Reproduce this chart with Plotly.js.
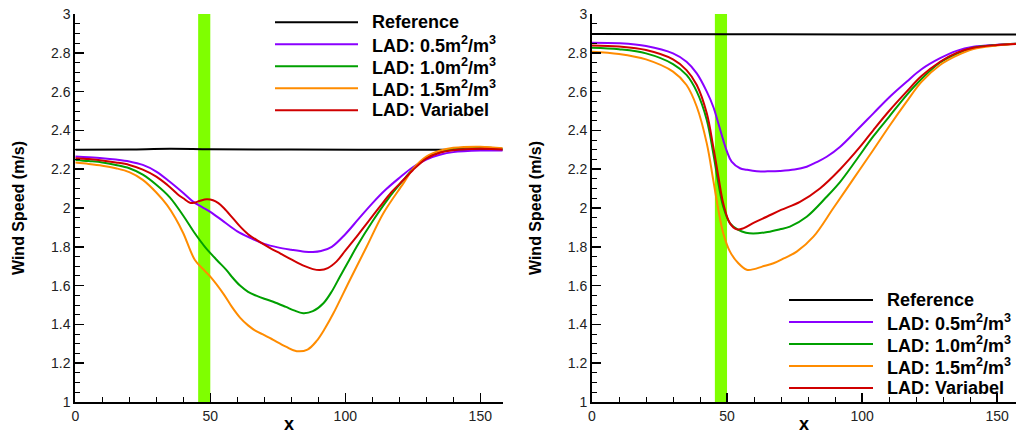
<!DOCTYPE html>
<html>
<head>
<meta charset="utf-8">
<script src="https://cdn.plot.ly/plotly-3.0.1.min.js"></script>
<style>html,body{margin:0;padding:0;background:#fff;}#chart{width:1016px;height:434px;}</style>
</head>
<body>
<div id="chart"></div>
<script>
// ---------- DATA ----------
const seriesNames = ['Reference', 'LAD: 0.5m<sup>2</sup>/m<sup>3</sup>', 'LAD: 1.0m<sup>2</sup>/m<sup>3</sup>', 'LAD: 1.5m<sup>2</sup>/m<sup>3</sup>', 'LAD: Variabel'];
const canopyX = [45.5, 50];          // tree canopy (green band) extent in x
const yTickVals = [1, 1.2, 1.4, 1.6, 1.8, 2, 2.2, 2.4, 2.6, 2.8, 3];
const xTickVals = [0, 50, 100, 150];
const xMinorVals = [10, 20, 30, 40, 60, 70, 80, 90, 110, 120, 130, 140];

// Left panel
const L_refX = [0, 20, 35, 50, 80, 120, 158.3];
const L_refY = [2.300, 2.302, 2.305, 2.303, 2.301, 2.300, 2.300];
const L_p05X = [0,5,10,15,20,25,30,35,40,43.6,47,50,55,60,65,70,75,80,85,88,91,95,100,105,110,115,120,125,130,135,140,150,158.3];
const L_p05Y = [2.266,2.262,2.257,2.25,2.24,2.222,2.188,2.135,2.077,2.033,2.005,1.98,1.93,1.88,1.845,1.815,1.797,1.785,1.775,1.773,1.778,1.80,1.865,1.945,2.024,2.095,2.155,2.21,2.25,2.274,2.288,2.296,2.296];
const L_p10X = [0,5,10,15,20,25,30,35,40,44,48,52.4,56,58,61,64,67,70,73.3,78,81,84.4,88,91.9,95,98,101,104.2,110.4,116,121.5,125,130,135,140,150,158.3];
const L_p10Y = [2.248,2.242,2.235,2.222,2.205,2.172,2.12,2.055,1.96,1.875,1.80,1.732,1.68,1.645,1.60,1.568,1.548,1.532,1.517,1.49,1.472,1.458,1.468,1.509,1.57,1.646,1.72,1.80,1.938,2.05,2.144,2.2,2.26,2.29,2.305,2.313,2.305];
const L_p15X = [0,5,10,15,20,25,30,34,37,40,44.3,48,50,55,58,61,64,67,70,73.3,78,82,86,89.4,92.5,95.6,101.7,107.9,114.1,121.5,125,130,135,140,150,158.3];
const L_p15Y = [2.234,2.227,2.218,2.205,2.185,2.145,2.08,2.015,1.95,1.87,1.732,1.675,1.646,1.555,1.49,1.435,1.395,1.365,1.345,1.32,1.285,1.262,1.27,1.315,1.38,1.457,1.629,1.80,1.973,2.127,2.2,2.265,2.295,2.31,2.316,2.308];
const L_varX = [0,5,10,15,20,25,30,34,38,40,42.5,44,46,48.7,51,53,55,58.5,61,64,68,72,76,80,85,88,90.6,93.5,96.8,100,104.2,108.5,112.8,117,121.5,125,130,135,140,150,158.3];
const L_varY = [2.257,2.252,2.245,2.235,2.222,2.198,2.162,2.12,2.07,2.05,2.027,2.027,2.036,2.045,2.04,2.025,2.00,1.945,1.905,1.865,1.828,1.795,1.765,1.735,1.70,1.685,1.68,1.69,1.725,1.78,1.852,1.93,2.007,2.08,2.144,2.195,2.255,2.285,2.298,2.305,2.302];

// Right panel
const R_refX = [0, 50, 100, 157];
const R_refY = [2.897, 2.896, 2.894, 2.894];
const R_p05X = [0,10,20,30,35,38.8,42.5,44.9,46.8,48.6,50,51.7,54.8,57.3,61,65,69.6,75,79.5,83,86.9,91.9,98,104.2,110,116.5,122,128.9,135,141.2,150,157];
const R_p05Y = [2.852,2.849,2.835,2.797,2.754,2.694,2.6,2.522,2.436,2.35,2.29,2.239,2.205,2.197,2.189,2.189,2.191,2.198,2.213,2.235,2.264,2.316,2.40,2.488,2.57,2.651,2.715,2.772,2.81,2.831,2.842,2.847];
const R_p10X = [0,10,20,30,35,38.8,42.5,44.9,46.8,48.6,51.1,54.2,57,59.7,65,69.6,73.3,79.5,86.9,91.9,98,104.2,110,116.5,122,128.9,135,141.2,150,157];
const R_p10Y = [2.826,2.818,2.797,2.742,2.686,2.6,2.454,2.282,2.127,2.007,1.921,1.887,1.872,1.868,1.876,1.89,1.904,1.955,2.058,2.135,2.25,2.37,2.47,2.582,2.665,2.75,2.795,2.826,2.84,2.847];
const R_p15X = [0,10,20,30,35,38.8,42.5,44.9,46.8,48.6,51.1,54.2,57.3,60,63,67.2,71,75.8,82,89.4,96.8,104.2,110,116.5,122,128.9,135,141.2,150,157];
const R_p15Y = [2.806,2.794,2.766,2.703,2.634,2.522,2.333,2.144,1.99,1.87,1.775,1.715,1.682,1.685,1.698,1.715,1.74,1.775,1.852,2.0,2.15,2.30,2.42,2.548,2.65,2.737,2.785,2.82,2.838,2.847];
const R_varX = [0,10,20,30,35,38.8,42.5,44.9,46.8,48.6,51.1,53.6,56,60,64.7,70,77,84.4,91.9,99.3,104.2,110,116.5,122,128.9,135,141.2,150,157];
const R_varY = [2.838,2.832,2.814,2.766,2.711,2.634,2.488,2.316,2.161,2.024,1.921,1.89,1.895,1.925,1.955,1.99,2.032,2.101,2.2,2.316,2.402,2.50,2.6,2.68,2.754,2.80,2.826,2.84,2.846];

// ---------- STYLE ----------
const colors = ['#000000', '#8a00ff', '#00a000', '#ff8c00', '#d00000'];
const bandColor = '#7fff00';
const FONT = 'Arial, "Liberation Sans", sans-serif';
const W = 1016, H = 434, MT = 14, MB = 32;

function band(xa, ya) {
  return {x: [canopyX[0], canopyX[1], canopyX[1], canopyX[0]], y: [1, 1, 3, 3],
    xaxis: xa, yaxis: ya, type: 'scatter', mode: 'lines', fill: 'toself',
    fillcolor: bandColor, line: {width: 0, color: bandColor}, hoverinfo: 'skip', showlegend: false};
}
function curve(x, y, i, xa, ya) {
  return {x: x, y: y, xaxis: xa, yaxis: ya, type: 'scatter', mode: 'lines', name: seriesNames[i],
    line: {color: colors[i], width: 2, shape: 'spline', smoothing: 1}, showlegend: false};
}
const traces = [
  band('x', 'y'),
  curve(L_refX, L_refY, 0, 'x', 'y'),
  curve(L_p05X, L_p05Y, 1, 'x', 'y'),
  curve(L_p10X, L_p10Y, 2, 'x', 'y'),
  curve(L_p15X, L_p15Y, 3, 'x', 'y'),
  curve(L_varX, L_varY, 4, 'x', 'y'),
  band('x2', 'y2'),
  curve(R_refX, R_refY, 0, 'x2', 'y2'),
  curve(R_p05X, R_p05Y, 1, 'x2', 'y2'),
  curve(R_p10X, R_p10Y, 2, 'x2', 'y2'),
  curve(R_p15X, R_p15Y, 3, 'x2', 'y2'),
  curve(R_varX, R_varY, 4, 'x2', 'y2')
];

function xAxis(domain, range, anchor) {
  return {domain: domain, range: range, anchor: anchor, showgrid: false, zeroline: false,
    showline: true, linecolor: '#000', linewidth: 2, mirror: false,
    ticks: 'inside', ticklen: 9, tickwidth: 1.5, tickcolor: '#000',
    tickvals: xTickVals, ticktext: xTickVals.map(String),
    minor: {tickvals: xMinorVals, ticks: 'inside', ticklen: 5, tickwidth: 1, tickcolor: '#000'},
    tickfont: {family: FONT, size: 14, color: '#222'},
    title: {text: 'x', font: {family: FONT, size: 18, color: '#000', weight: 'bold'}, standoff: 4}};
}
function yAxis(anchor) {
  return {domain: [0, 1], range: [1, 3], anchor: anchor, showgrid: false, zeroline: false,
    showline: true, linecolor: '#000', linewidth: 2, mirror: false,
    ticks: 'inside', ticklen: 9, tickwidth: 1.5, tickcolor: '#000',
    tickvals: yTickVals, ticktext: yTickVals.map(String),
    minor: {dtick: 0.05, tick0: 1, ticks: 'inside', ticklen: 5, tickwidth: 1, tickcolor: '#000'},
    tickfont: {family: FONT, size: 14, color: '#222'},
    title: {text: 'Wind Speed (m/s)', font: {family: FONT, size: 16, color: '#000', weight: 'bold'}, standoff: 22}};
}

// legend (drawn as line samples + text), pixel layout
function legend(lineX0, lineX1, textX, rowsY) {
  const shapes = [], anns = [];
  const py = p => (H - MB - p) / (H - MT - MB);
  rowsY.forEach((r, i) => {
    shapes.push({type: 'line', xref: 'paper', yref: 'paper', x0: lineX0 / W, x1: lineX1 / W, y0: py(r), y1: py(r),
      line: {color: colors[i], width: 2}});
    anns.push({xref: 'paper', yref: 'paper', x: textX / W, y: py(r), xanchor: 'left', yanchor: 'middle',
      text: seriesNames[i], showarrow: false, font: {family: FONT, size: 18, color: '#000', weight: 'bold'}});
  });
  return {shapes, anns};
}
const lg1 = legend(275, 358, 370, [22.3, 44.3, 66.3, 88.3, 110.3]);
const lg2 = legend(789, 873, 885, [300, 322, 344, 366, 388]);

const layout = {
  width: W, height: H, margin: {l: 0, r: 0, t: MT, b: MB, pad: 0},
  paper_bgcolor: '#fff', plot_bgcolor: '#fff', showlegend: false,
  xaxis: xAxis([75.3 / W, 502.7 / W], [0, 158.3], 'y'),
  yaxis: yAxis('x'),
  xaxis2: xAxis([592 / W, 1], [0, 157], 'y2'),
  yaxis2: yAxis('x2'),
  shapes: lg1.shapes.concat(lg2.shapes),
  annotations: lg1.anns.concat(lg2.anns)
};
Plotly.newPlot('chart', traces, layout, {staticPlot: true, displayModeBar: false});
</script>
</body>
</html>
